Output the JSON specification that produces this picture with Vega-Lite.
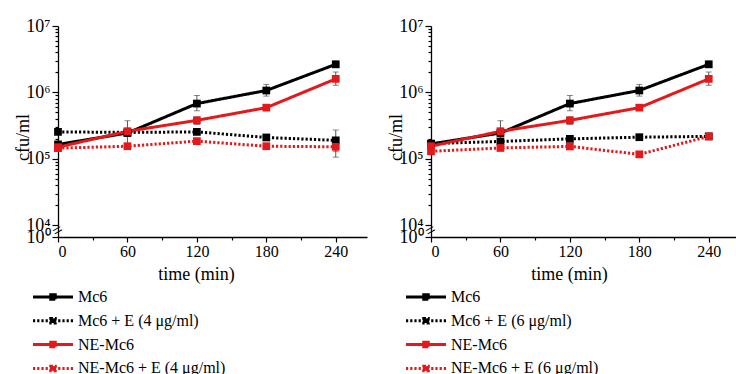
{
  "$schema": "https://vega.github.io/schema/vega-lite/v6.json",
  "padding": {"left": 14, "top": 17, "right": 0, "bottom": 0},
  "spacing": 20,
  "resolve": {"scale": {"color": "independent", "strokeDash": "independent"}, "legend": {"color": "independent", "strokeDash": "independent"}},
  "datasets": {
    "p4": [
      {"t": 0, "s": "Mc6", "v": 165000, "lo": 150000, "hi": 180000},
      {"t": 60, "s": "Mc6", "v": 245000, "lo": 165000, "hi": 375000},
      {"t": 120, "s": "Mc6", "v": 680000, "lo": 530000, "hi": 900000},
      {"t": 180, "s": "Mc6", "v": 1070000, "lo": 880000, "hi": 1320000},
      {"t": 240, "s": "Mc6", "v": 2650000, "lo": 2400000, "hi": 2950000},
      {"t": 0, "s": "Mc6 + E (4 μg/ml)", "v": 255000, "lo": 245000, "hi": 265000},
      {"t": 60, "s": "Mc6 + E (4 μg/ml)", "v": 250000, "lo": 240000, "hi": 260000},
      {"t": 120, "s": "Mc6 + E (4 μg/ml)", "v": 255000, "lo": 240000, "hi": 270000},
      {"t": 180, "s": "Mc6 + E (4 μg/ml)", "v": 210000, "lo": 200000, "hi": 220000},
      {"t": 240, "s": "Mc6 + E (4 μg/ml)", "v": 190000, "lo": 130000, "hi": 272000},
      {"t": 0, "s": "NE-Mc6", "v": 150000, "lo": 140000, "hi": 160000},
      {"t": 60, "s": "NE-Mc6", "v": 260000, "lo": 230000, "hi": 290000},
      {"t": 120, "s": "NE-Mc6", "v": 380000, "lo": 330000, "hi": 430000},
      {"t": 180, "s": "NE-Mc6", "v": 590000, "lo": 550000, "hi": 630000},
      {"t": 240, "s": "NE-Mc6", "v": 1600000, "lo": 1280000, "hi": 2030000},
      {"t": 0, "s": "NE-Mc6 + E (4 μg/ml)", "v": 145000, "lo": 138000, "hi": 152000},
      {"t": 60, "s": "NE-Mc6 + E (4 μg/ml)", "v": 155000, "lo": 147000, "hi": 163000},
      {"t": 120, "s": "NE-Mc6 + E (4 μg/ml)", "v": 185000, "lo": 175000, "hi": 195000},
      {"t": 180, "s": "NE-Mc6 + E (4 μg/ml)", "v": 155000, "lo": 147000, "hi": 163000},
      {"t": 240, "s": "NE-Mc6 + E (4 μg/ml)", "v": 152000, "lo": 106000, "hi": 200000}
    ],
    "p6": [
      {"t": 0, "s": "Mc6", "v": 168000, "lo": 152000, "hi": 182000},
      {"t": 60, "s": "Mc6", "v": 245000, "lo": 165000, "hi": 375000},
      {"t": 120, "s": "Mc6", "v": 680000, "lo": 530000, "hi": 900000},
      {"t": 180, "s": "Mc6", "v": 1070000, "lo": 880000, "hi": 1320000},
      {"t": 240, "s": "Mc6", "v": 2650000, "lo": 2400000, "hi": 2950000},
      {"t": 0, "s": "Mc6 + E (6 μg/ml)", "v": 170000, "lo": 162000, "hi": 178000},
      {"t": 60, "s": "Mc6 + E (6 μg/ml)", "v": 183000, "lo": 175000, "hi": 191000},
      {"t": 120, "s": "Mc6 + E (6 μg/ml)", "v": 200000, "lo": 191000, "hi": 209000},
      {"t": 180, "s": "Mc6 + E (6 μg/ml)", "v": 212000, "lo": 202000, "hi": 222000},
      {"t": 240, "s": "Mc6 + E (6 μg/ml)", "v": 218000, "lo": 205000, "hi": 230000},
      {"t": 0, "s": "NE-Mc6", "v": 155000, "lo": 145000, "hi": 165000},
      {"t": 60, "s": "NE-Mc6", "v": 260000, "lo": 230000, "hi": 290000},
      {"t": 120, "s": "NE-Mc6", "v": 380000, "lo": 330000, "hi": 430000},
      {"t": 180, "s": "NE-Mc6", "v": 590000, "lo": 550000, "hi": 630000},
      {"t": 240, "s": "NE-Mc6", "v": 1600000, "lo": 1280000, "hi": 2030000},
      {"t": 0, "s": "NE-Mc6 + E (6 μg/ml)", "v": 130000, "lo": 124000, "hi": 136000},
      {"t": 60, "s": "NE-Mc6 + E (6 μg/ml)", "v": 146000, "lo": 139000, "hi": 153000},
      {"t": 120, "s": "NE-Mc6 + E (6 μg/ml)", "v": 154000, "lo": 146000, "hi": 162000},
      {"t": 180, "s": "NE-Mc6 + E (6 μg/ml)", "v": 117000, "lo": 111000, "hi": 123000},
      {"t": 240, "s": "NE-Mc6 + E (6 μg/ml)", "v": 218000, "lo": 207000, "hi": 229000}
    ]
  },
  "hconcat": [
    {
      "width": 309, "height": 211,
      "data": {"name": "p4"},
      "layer": [
        {
          "mark": {"type": "errorbar", "ticks": {"size": 6}, "color": "#555555", "thickness": 1},
          "encoding": {
            "x": {"field": "t", "type": "quantitative", "scale": {"domain": [0, 267], "nice": false}, "axis": null},
            "y": {"field": "lo", "type": "quantitative", "scale": {"type": "log", "domain": [6670, 10000000], "nice": false}, "axis": null},
            "y2": {"field": "hi"}
          }
        },
        {
          "mark": {"type": "line", "strokeWidth": 3},
          "encoding": {
            "x": {"field": "t", "type": "quantitative", "scale": {"domain": [0, 267], "nice": false},
              "axis": {"values": [0, 30, 60, 90, 120, 150, 180, 210, 240], "labelExpr": "datum.value % 60 === 0 ? datum.label : ''", "tickSize": {"condition": {"test": "datum.value % 60 === 0", "value": 5}, "value": 3}, "labelPadding": 1, "title": "time (min)", "titlePadding": 6, "titleX": 138}},
            "y": {"field": "v", "type": "quantitative", "scale": {"type": "log", "domain": [6670, 10000000], "nice": false},
              "axis": {"values": [6670, 10000, 20000, 30000, 40000, 50000, 60000, 70000, 80000, 90000, 100000, 200000, 300000, 400000, 500000, 600000, 700000, 800000, 900000, 1000000, 2000000, 3000000, 4000000, 5000000, 6000000, 7000000, 8000000, 9000000, 10000000],
                "labelExpr": "datum.value < 9000 ? '10⁰' : datum.value === 10000 ? '10⁴' : datum.value === 100000 ? '10⁵' : datum.value === 1000000 ? '10⁶' : datum.value === 10000000 ? '10⁷' : ''",
                "tickSize": {"condition": {"test": "datum.value < 9000 || datum.value === 10000 || datum.value === 100000 || datum.value === 1000000 || datum.value === 10000000", "value": 6}, "value": 3},
                "labelOverlap": false, "labelFontSize": 18, "labelPadding": 2, "title": "cfu/ml", "titlePadding": -7, "titleY": 111}},
            "color": {"field": "s", "type": "nominal",
              "scale": {"domain": ["Mc6", "Mc6 + E (4 μg/ml)", "NE-Mc6", "NE-Mc6 + E (4 μg/ml)"], "range": ["#000000", "#000000", "#e3191b", "#e3191b"]},
              "legend": {"title": null, "orient": "none", "legendX": -13, "legendY": 263, "symbolType": "M-4,0H4M-0.45,-0.45H0.45V0.45H-0.45Z", "symbolSize": 100, "symbolStrokeWidth": 3, "labelOffset": 17, "rowPadding": 5.8,
                "encode": {"symbols": {"update": {"fill": {"signal": "indexof(datum.value, 'NE') === 0 ? '#e3191b' : '#000000'"}, "opacity": {"value": 1}}}}}},
            "strokeDash": {"field": "s", "type": "nominal",
              "scale": {"domain": ["Mc6", "Mc6 + E (4 μg/ml)", "NE-Mc6", "NE-Mc6 + E (4 μg/ml)"], "range": [[1, 0], [2.2, 2], [1, 0], [2.2, 2]]},
              "legend": {"title": null, "orient": "none", "legendX": -13, "legendY": 263, "symbolType": "M-4,0H4M-0.45,-0.45H0.45V0.45H-0.45Z", "symbolSize": 100, "symbolStrokeWidth": 3, "labelOffset": 17, "rowPadding": 5.8}}
          }
        },
        {
          "mark": {"type": "point", "shape": "square", "filled": true, "size": 60, "opacity": 1},
          "encoding": {
            "x": {"field": "t", "type": "quantitative", "axis": null},
            "y": {"field": "v", "type": "quantitative", "axis": null},
            "color": {"field": "s", "type": "nominal"}
          }
        },
        {
          "data": {"values": [{"t": 0, "v": 8200}]},
          "mark": {"type": "text", "text": "=", "angle": -30, "fontSize": 18},
          "encoding": {
            "x": {"field": "t", "type": "quantitative", "axis": null},
            "y": {"field": "v", "type": "quantitative", "axis": null}
          }
        }
      ],
      "resolve": {"axis": {"x": "independent", "y": "independent"}}
    },
    {
      "width": 309, "height": 211,
      "data": {"name": "p6"},
      "layer": [
        {
          "mark": {"type": "errorbar", "ticks": {"size": 6}, "color": "#555555", "thickness": 1},
          "encoding": {
            "x": {"field": "t", "type": "quantitative", "scale": {"domain": [0, 267], "nice": false}, "axis": null},
            "y": {"field": "lo", "type": "quantitative", "scale": {"type": "log", "domain": [6670, 10000000], "nice": false}, "axis": null},
            "y2": {"field": "hi"}
          }
        },
        {
          "mark": {"type": "line", "strokeWidth": 3},
          "encoding": {
            "x": {"field": "t", "type": "quantitative", "scale": {"domain": [0, 267], "nice": false},
              "axis": {"values": [0, 30, 60, 90, 120, 150, 180, 210, 240], "labelExpr": "datum.value % 60 === 0 ? datum.label : ''", "tickSize": {"condition": {"test": "datum.value % 60 === 0", "value": 5}, "value": 3}, "labelPadding": 1, "title": "time (min)", "titlePadding": 6, "titleX": 138}},
            "y": {"field": "v", "type": "quantitative", "scale": {"type": "log", "domain": [6670, 10000000], "nice": false},
              "axis": {"values": [6670, 10000, 20000, 30000, 40000, 50000, 60000, 70000, 80000, 90000, 100000, 200000, 300000, 400000, 500000, 600000, 700000, 800000, 900000, 1000000, 2000000, 3000000, 4000000, 5000000, 6000000, 7000000, 8000000, 9000000, 10000000],
                "labelExpr": "datum.value < 9000 ? '10⁰' : datum.value === 10000 ? '10⁴' : datum.value === 100000 ? '10⁵' : datum.value === 1000000 ? '10⁶' : datum.value === 10000000 ? '10⁷' : ''",
                "tickSize": {"condition": {"test": "datum.value < 9000 || datum.value === 10000 || datum.value === 100000 || datum.value === 1000000 || datum.value === 10000000", "value": 6}, "value": 3},
                "labelOverlap": false, "labelFontSize": 18, "labelPadding": 2, "title": "cfu/ml", "titlePadding": -7, "titleY": 111}},
            "color": {"field": "s", "type": "nominal",
              "scale": {"domain": ["Mc6", "Mc6 + E (6 μg/ml)", "NE-Mc6", "NE-Mc6 + E (6 μg/ml)"], "range": ["#000000", "#000000", "#e3191b", "#e3191b"]},
              "legend": {"title": null, "orient": "none", "legendX": -13, "legendY": 263, "symbolType": "M-4,0H4M-0.45,-0.45H0.45V0.45H-0.45Z", "symbolSize": 100, "symbolStrokeWidth": 3, "labelOffset": 17, "rowPadding": 5.8,
                "encode": {"symbols": {"update": {"fill": {"signal": "indexof(datum.value, 'NE') === 0 ? '#e3191b' : '#000000'"}, "opacity": {"value": 1}}}}}},
            "strokeDash": {"field": "s", "type": "nominal",
              "scale": {"domain": ["Mc6", "Mc6 + E (6 μg/ml)", "NE-Mc6", "NE-Mc6 + E (6 μg/ml)"], "range": [[1, 0], [2.2, 2], [1, 0], [2.2, 2]]},
              "legend": {"title": null, "orient": "none", "legendX": -13, "legendY": 263, "symbolType": "M-4,0H4M-0.45,-0.45H0.45V0.45H-0.45Z", "symbolSize": 100, "symbolStrokeWidth": 3, "labelOffset": 17, "rowPadding": 5.8}}
          }
        },
        {
          "mark": {"type": "point", "shape": "square", "filled": true, "size": 60, "opacity": 1},
          "encoding": {
            "x": {"field": "t", "type": "quantitative", "axis": null},
            "y": {"field": "v", "type": "quantitative", "axis": null},
            "color": {"field": "s", "type": "nominal"}
          }
        },
        {
          "data": {"values": [{"t": 0, "v": 8200}]},
          "mark": {"type": "text", "text": "=", "angle": -30, "fontSize": 18},
          "encoding": {
            "x": {"field": "t", "type": "quantitative", "axis": null},
            "y": {"field": "v", "type": "quantitative", "axis": null}
          }
        }
      ],
      "resolve": {"axis": {"x": "independent", "y": "independent"}}
    }
  ],
  "config": {
    "view": {"stroke": null},
    "font": "Liberation Serif",
    "axis": {"grid": false, "domainColor": "#000000", "tickColor": "#000000", "labelColor": "#000000", "titleColor": "#000000", "domainWidth": 1.3, "tickWidth": 1.2, "labelFont": "Liberation Serif", "titleFont": "Liberation Serif", "labelFontSize": 16, "titleFontSize": 18, "titleFontWeight": "normal"},
    "legend": {"labelFont": "Liberation Serif", "labelFontSize": 16, "labelColor": "#000000", "labelLimit": 400},
    "text": {"font": "Liberation Serif"}
  }
}
